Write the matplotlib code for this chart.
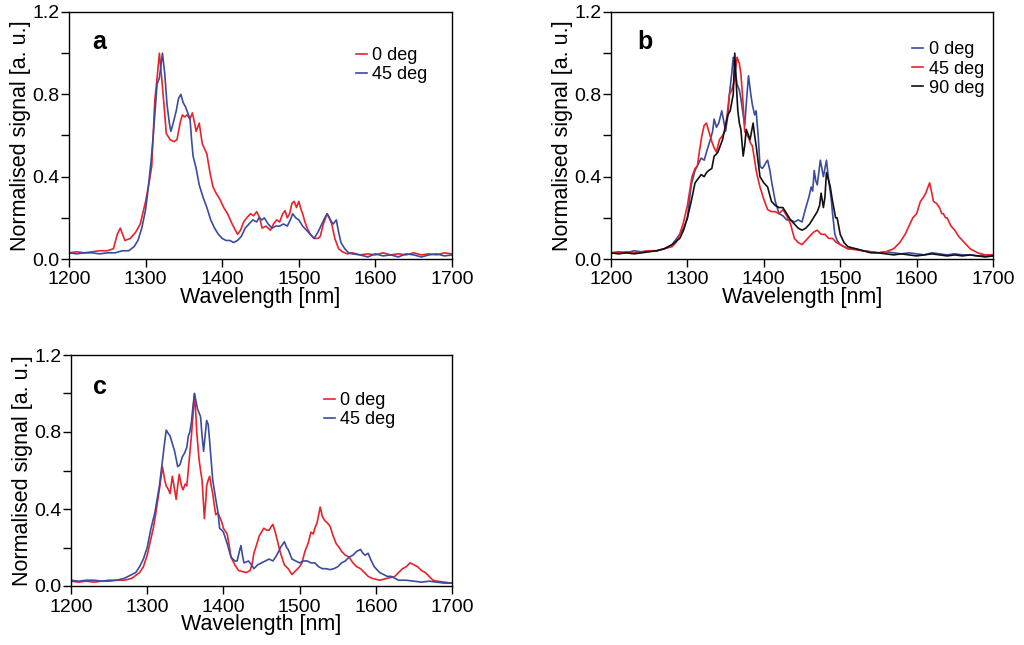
import matplotlib.pyplot as plt
from matplotlib.ticker import MultipleLocator

plt.rcParams['font.family'] = ['Liberation Sans', 'DejaVu Sans']

RED = '#e8232a'
BLUE = '#3a4c9f'
BLACK = '#111111'

# ---- panel a ----
wl_a_red = [1200, 1210, 1220, 1230, 1240, 1250, 1258, 1263, 1267, 1270, 1273, 1280, 1287, 1293, 1300,
            1305, 1308, 1312, 1315, 1318, 1321, 1324, 1327, 1332, 1337, 1341, 1345, 1348, 1351, 1354,
            1358, 1361, 1364, 1366, 1370, 1374, 1380, 1384, 1388, 1392, 1397, 1402, 1407, 1413, 1420,
            1424, 1428, 1432, 1437, 1441, 1445, 1449, 1452, 1457, 1463, 1467, 1471, 1475, 1479, 1482,
            1485, 1488, 1491, 1494, 1497, 1500, 1503, 1505, 1508, 1511, 1515, 1520, 1525, 1528, 1532,
            1537, 1540, 1543, 1547, 1552, 1557, 1563, 1570, 1580, 1590, 1600, 1610, 1620, 1630, 1640,
            1650, 1660, 1670, 1680, 1690, 1700]
a_red = [0.03, 0.035, 0.03, 0.035, 0.04, 0.04, 0.05, 0.12, 0.15, 0.12, 0.09, 0.10, 0.13, 0.17, 0.28,
         0.38, 0.45, 0.77, 0.88, 1.0, 0.88, 0.75, 0.61, 0.58, 0.57, 0.58, 0.66, 0.70, 0.69, 0.70,
         0.68, 0.71, 0.66, 0.62, 0.66, 0.56, 0.51, 0.42, 0.35, 0.32, 0.29, 0.25, 0.22, 0.17, 0.12,
         0.14, 0.18, 0.20, 0.22, 0.21, 0.23, 0.20, 0.15, 0.16, 0.14, 0.17, 0.19, 0.18, 0.22, 0.235,
         0.20, 0.22, 0.27, 0.28, 0.25, 0.28, 0.24, 0.22, 0.18, 0.15, 0.12, 0.10, 0.10, 0.11, 0.17,
         0.22, 0.20, 0.17, 0.10, 0.05, 0.035, 0.025, 0.03, 0.02, 0.025, 0.02, 0.03, 0.02, 0.025, 0.02,
         0.03, 0.02, 0.025, 0.02, 0.03, 0.025]

wl_a_blue = [1200, 1210, 1220, 1230, 1240, 1250, 1260, 1270, 1278, 1285, 1290, 1295, 1300, 1303, 1307,
             1310, 1313, 1315, 1318, 1322, 1325, 1328, 1331, 1333, 1336, 1340, 1343, 1346, 1349, 1352,
             1355, 1358, 1360, 1362, 1366, 1370, 1375, 1380, 1385, 1390, 1395, 1400, 1405, 1410, 1415,
             1420, 1425, 1430, 1435, 1440, 1445, 1448, 1452, 1455, 1460, 1465, 1470, 1475, 1480, 1485,
             1489, 1492, 1496, 1500, 1505, 1510, 1515, 1520, 1525, 1530, 1534, 1537, 1541, 1545, 1549,
             1552, 1555, 1560, 1565, 1570, 1580, 1590, 1600, 1610, 1620, 1630, 1640, 1650, 1660, 1670,
             1680, 1690, 1700]
a_blue = [0.03, 0.025, 0.03, 0.03, 0.025, 0.03, 0.03, 0.04, 0.04, 0.06, 0.09, 0.15, 0.24, 0.33, 0.47,
          0.60, 0.75, 0.85, 0.88, 1.0, 0.90, 0.75, 0.66, 0.62, 0.66, 0.72, 0.78, 0.80, 0.76, 0.74,
          0.71, 0.68, 0.58, 0.50, 0.44, 0.36, 0.30, 0.25, 0.19, 0.15, 0.12, 0.10, 0.09, 0.09, 0.08,
          0.09, 0.11, 0.15, 0.17, 0.19, 0.18, 0.20, 0.19, 0.20, 0.17, 0.15, 0.16, 0.16, 0.17, 0.16,
          0.19, 0.22, 0.20, 0.19, 0.16, 0.14, 0.12, 0.10, 0.13, 0.17, 0.20, 0.22, 0.19, 0.17, 0.19,
          0.13, 0.08, 0.05, 0.03, 0.025, 0.02, 0.01, 0.025, 0.015, 0.02, 0.01, 0.025, 0.02, 0.01, 0.02,
          0.025, 0.015, 0.02]

# ---- panel b ----
wl_b_0 = [1200, 1210, 1220, 1230, 1240, 1250, 1260, 1270, 1280, 1290, 1295, 1300, 1305, 1310, 1314,
          1318, 1322, 1325, 1330, 1333, 1335, 1338, 1341, 1345, 1348, 1350, 1353, 1355, 1358, 1360,
          1362, 1365, 1368, 1370, 1373, 1375, 1378, 1380, 1383, 1385, 1388, 1390, 1393, 1395, 1398,
          1400, 1403, 1405, 1408, 1410, 1415, 1420, 1425, 1430, 1435, 1440, 1445, 1450, 1455, 1459,
          1462, 1464, 1466, 1468, 1470, 1472, 1474, 1476, 1478, 1480, 1482, 1485, 1488, 1490, 1493,
          1496, 1500, 1505, 1510, 1520, 1530, 1540, 1550, 1560, 1570, 1580, 1590, 1600, 1610, 1620,
          1630, 1640, 1650, 1660, 1670, 1680, 1690, 1700]
b_0 = [0.03, 0.035, 0.03, 0.04, 0.035, 0.04, 0.04, 0.05, 0.07, 0.12, 0.15, 0.20, 0.36, 0.43, 0.46,
       0.49, 0.48, 0.52, 0.58, 0.62, 0.68, 0.64, 0.66, 0.72, 0.66, 0.62, 0.70, 0.80, 0.90, 0.98,
       0.93, 0.85, 0.82, 0.78, 0.70, 0.65, 0.80, 0.89, 0.80, 0.75, 0.70, 0.72, 0.58, 0.45, 0.44,
       0.45, 0.47, 0.48, 0.43, 0.38, 0.28, 0.22, 0.21, 0.19, 0.19, 0.18, 0.19, 0.18, 0.25, 0.30,
       0.35, 0.33, 0.43, 0.38, 0.36, 0.42, 0.48, 0.44, 0.40, 0.44, 0.48, 0.38, 0.30, 0.22, 0.12,
       0.09, 0.07, 0.06, 0.05, 0.05, 0.04, 0.035, 0.03, 0.035, 0.03, 0.025, 0.03, 0.025, 0.02, 0.03,
       0.025, 0.02, 0.025, 0.02, 0.02, 0.015, 0.02, 0.015]

wl_b_45 = [1200, 1210, 1220, 1230, 1240, 1250, 1260, 1270, 1280, 1285, 1290, 1295, 1300, 1303, 1306,
           1310, 1313, 1316, 1319, 1322, 1325, 1328, 1332, 1335, 1338, 1342, 1346, 1349, 1352, 1355,
           1358, 1361, 1363, 1365, 1368, 1370, 1373, 1375, 1378, 1380, 1383, 1385, 1388, 1390, 1393,
           1395, 1400, 1405, 1410, 1415, 1420, 1425, 1430, 1435, 1440, 1445, 1450, 1455, 1460, 1465,
           1470, 1475, 1480, 1485, 1490, 1495, 1500, 1505, 1510, 1520, 1530, 1540, 1550, 1560, 1570,
           1578, 1585, 1590, 1595, 1600, 1605, 1609, 1612, 1615, 1617, 1620, 1622, 1626, 1630, 1633,
           1635, 1638, 1640, 1645, 1650, 1655, 1660, 1665, 1670, 1675, 1680, 1690, 1700]
b_45 = [0.03, 0.03, 0.035, 0.03, 0.035, 0.04, 0.04, 0.05, 0.06, 0.08, 0.12, 0.18, 0.26, 0.33, 0.40,
        0.44, 0.45, 0.53, 0.60, 0.65, 0.66, 0.62, 0.57, 0.54, 0.52, 0.58, 0.60, 0.62, 0.70, 0.80,
        0.82, 0.86, 0.92, 0.98, 0.95, 0.90, 0.75, 0.62, 0.60, 0.59, 0.56, 0.55, 0.48, 0.43, 0.38,
        0.35, 0.29, 0.24, 0.23, 0.23, 0.22, 0.24, 0.21, 0.17, 0.10, 0.08, 0.07, 0.09, 0.11, 0.13,
        0.14, 0.12, 0.12, 0.10, 0.10, 0.08, 0.07, 0.06, 0.05, 0.045, 0.04, 0.035, 0.03, 0.035, 0.05,
        0.08, 0.12, 0.16, 0.20, 0.22, 0.28, 0.30, 0.32, 0.35, 0.37, 0.32, 0.28, 0.27, 0.25, 0.22,
        0.22, 0.20, 0.20, 0.16, 0.14, 0.11, 0.09, 0.07, 0.05, 0.04, 0.03, 0.02, 0.02]

wl_b_90 = [1200, 1210, 1220, 1230, 1240, 1250, 1260, 1270, 1280, 1290, 1295, 1300, 1305, 1310, 1314,
           1318, 1322, 1325, 1328, 1332, 1335, 1338, 1340, 1343, 1346, 1350, 1353, 1356, 1358, 1360,
           1362, 1364, 1366, 1368, 1370, 1373, 1375, 1377, 1380, 1382, 1384, 1386, 1388, 1390, 1393,
           1395, 1400, 1405, 1410, 1415, 1420, 1425, 1430, 1435, 1440, 1445, 1450, 1455, 1460, 1465,
           1470, 1473, 1475, 1478, 1480, 1482, 1485, 1487, 1490, 1492, 1494, 1496, 1498, 1500, 1505,
           1510, 1520, 1530, 1540, 1550, 1560, 1570, 1580, 1590, 1600, 1610, 1620, 1630, 1640, 1650,
           1660, 1670, 1680, 1690, 1700]
b_90 = [0.03, 0.025, 0.03, 0.025, 0.03, 0.035, 0.04, 0.05, 0.07, 0.10, 0.14, 0.20, 0.28, 0.37, 0.39,
        0.41, 0.40, 0.42, 0.43, 0.44, 0.50, 0.51, 0.52, 0.55, 0.58, 0.65, 0.70, 0.72, 0.76, 0.80,
        1.0, 0.85, 0.72, 0.66, 0.63, 0.50, 0.55, 0.63, 0.60, 0.58, 0.62, 0.66, 0.60, 0.55, 0.46,
        0.40, 0.37, 0.35, 0.28, 0.26, 0.25, 0.25, 0.22, 0.19, 0.17, 0.15, 0.14, 0.15, 0.17, 0.20,
        0.23, 0.26, 0.32, 0.25, 0.30, 0.42, 0.38, 0.35, 0.28, 0.24, 0.20, 0.20, 0.16, 0.12, 0.08,
        0.06, 0.05, 0.04, 0.03, 0.03, 0.025, 0.02, 0.025, 0.02, 0.015, 0.02, 0.025, 0.02, 0.015, 0.02,
        0.015, 0.02, 0.015, 0.01, 0.015]

# ---- panel c ----
wl_c_red = [1200, 1210, 1220, 1230, 1240, 1250, 1260, 1270, 1280, 1290, 1295, 1300, 1304, 1308, 1311,
            1314, 1317, 1320, 1323, 1325, 1328, 1330, 1333, 1336, 1338, 1340, 1342, 1345, 1347, 1350,
            1352, 1355, 1358, 1360, 1362, 1364, 1365, 1368, 1370, 1372, 1374, 1375, 1377, 1378, 1380,
            1382, 1384, 1386, 1388, 1390, 1393, 1395, 1398, 1400, 1405, 1408, 1410, 1415, 1420, 1425,
            1430, 1435, 1438, 1440, 1444, 1447, 1450, 1453, 1457, 1460, 1463, 1465, 1468, 1470, 1473,
            1475, 1480, 1485, 1490, 1495, 1500, 1503, 1507, 1511, 1515, 1518, 1520, 1523, 1525, 1527,
            1530, 1533, 1536, 1540, 1544, 1548, 1552, 1555, 1560, 1565, 1570, 1575, 1580, 1585, 1590,
            1595, 1600, 1605, 1610, 1615, 1620, 1625, 1630, 1635, 1640, 1645, 1650, 1655, 1660, 1665,
            1670, 1675, 1680, 1690, 1700]
c_red = [0.025, 0.02, 0.025, 0.02, 0.025, 0.025, 0.03, 0.03, 0.04, 0.07, 0.10, 0.16, 0.23, 0.30, 0.37,
         0.45, 0.53, 0.62, 0.55, 0.52, 0.50, 0.48, 0.57, 0.50, 0.45, 0.52, 0.58, 0.52, 0.50, 0.53,
         0.52, 0.65, 0.78, 0.88, 1.0, 0.88, 0.80, 0.66, 0.60, 0.55, 0.42, 0.35, 0.45, 0.52, 0.55,
         0.57, 0.52, 0.48, 0.42, 0.37, 0.38, 0.36, 0.33, 0.30, 0.27, 0.20, 0.15, 0.11, 0.08, 0.075,
         0.07, 0.08, 0.12, 0.17, 0.22, 0.26, 0.28, 0.30, 0.29, 0.29, 0.31, 0.32, 0.28, 0.25, 0.20,
         0.17, 0.11, 0.09, 0.06, 0.08, 0.10, 0.12, 0.18, 0.22, 0.28, 0.27, 0.30, 0.33, 0.37, 0.41,
         0.36, 0.34, 0.33, 0.31, 0.26, 0.22, 0.20, 0.18, 0.16, 0.15, 0.12, 0.10, 0.09, 0.07, 0.05,
         0.04, 0.035, 0.03, 0.035, 0.04, 0.045, 0.05, 0.07, 0.09, 0.10, 0.12, 0.11, 0.10, 0.08, 0.07,
         0.05, 0.03, 0.025, 0.02, 0.015]

wl_c_blue = [1200, 1210, 1220, 1230, 1240, 1250, 1260, 1265, 1270, 1275, 1280, 1285, 1290, 1295, 1300,
             1305, 1310, 1313, 1316, 1320, 1323, 1325, 1328, 1330, 1333, 1336, 1340, 1343, 1346, 1349,
             1352, 1354, 1356, 1358, 1360, 1362, 1364, 1366, 1368, 1370, 1372, 1374, 1376, 1378, 1380,
             1382, 1384, 1386, 1390, 1393, 1395, 1398, 1400, 1405, 1410, 1415, 1418, 1421, 1423, 1425,
             1427, 1433, 1437, 1440, 1445, 1450, 1455, 1460, 1465, 1470, 1475, 1480, 1483, 1485, 1490,
             1495, 1500, 1505, 1510, 1515, 1520, 1525, 1530, 1535, 1540, 1545, 1550, 1555, 1560, 1565,
             1570, 1575, 1580, 1583, 1586, 1590, 1593, 1598, 1605, 1610, 1615, 1620, 1625, 1630, 1640,
             1650, 1660, 1670, 1680, 1690, 1700]
c_blue = [0.03, 0.025, 0.03, 0.03, 0.025, 0.03, 0.03, 0.035, 0.04, 0.05, 0.06, 0.07, 0.10, 0.14, 0.20,
          0.30, 0.38, 0.45, 0.52, 0.65, 0.75, 0.81, 0.79, 0.78, 0.74, 0.70, 0.62, 0.63, 0.67, 0.69,
          0.72, 0.78, 0.80, 0.85, 0.93, 1.0, 0.96, 0.92, 0.90, 0.88, 0.78, 0.70, 0.78, 0.86, 0.84,
          0.75, 0.65, 0.55, 0.45, 0.38, 0.30, 0.29, 0.28, 0.22, 0.15, 0.13, 0.13, 0.18, 0.21, 0.16,
          0.12, 0.13, 0.11, 0.09, 0.11, 0.12, 0.13, 0.14, 0.13, 0.16, 0.20, 0.23, 0.20, 0.19, 0.14,
          0.13, 0.12, 0.13, 0.13, 0.12, 0.12, 0.10, 0.09, 0.09, 0.085, 0.09, 0.10, 0.12, 0.13, 0.15,
          0.16, 0.18, 0.19, 0.17, 0.16, 0.17, 0.14, 0.10, 0.07, 0.06, 0.05, 0.05, 0.04, 0.03, 0.03,
          0.025, 0.02, 0.025, 0.02, 0.015, 0.015]

x_ticks = [1200, 1300, 1400, 1500, 1600, 1700]
y_ticks = [0.0, 0.4, 0.8, 1.2]


def style_axes(ax, letter, letter_pos):
    ax.set_xlim(1200, 1700)
    ax.set_ylim(0, 1.2)
    ax.set_xticks(x_ticks)
    ax.set_yticks(y_ticks)
    ax.set_yticklabels(['%.1f' % v for v in y_ticks])
    ax.yaxis.set_minor_locator(MultipleLocator(0.2))
    ax.tick_params(which='both', direction='out', length=6, width=1, labelsize=14, pad=1)
    ax.tick_params(axis='x', pad=3)
    for s in ax.spines.values():
        s.set_linewidth(1)
    ax.set_xlabel('Wavelength [nm]', fontsize=15.5, labelpad=-1)
    ax.set_ylabel('Normalised signal [a. u.]', fontsize=15.5, labelpad=1)
    ax.text(letter_pos[0], letter_pos[1], letter, transform=ax.transAxes,
            fontsize=18, fontweight='bold')


def add_legend(ax, anchor):
    ax.legend(loc='upper left', bbox_to_anchor=anchor, frameon=False, fontsize=13,
              handlelength=0.6, handletextpad=0.3, labelspacing=0.12, borderaxespad=0)


fig = plt.figure(figsize=(10.24, 6.45), dpi=100)
ax_a = fig.add_axes([69 / 1024, 1 - 259 / 645, 383 / 1024, 247 / 645])
ax_b = fig.add_axes([611 / 1024, 1 - 259 / 645, 382 / 1024, 247 / 645])
ax_c = fig.add_axes([71 / 1024, 1 - 586 / 645, 381 / 1024, 231 / 645])

lw = 1.2
ax_a.plot(wl_a_red, a_red, color=RED, lw=lw, label='0 deg')
ax_a.plot(wl_a_blue, a_blue, color=BLUE, lw=lw, label='45 deg')
style_axes(ax_a, 'a', (0.062, 0.85))
add_legend(ax_a, (0.73, 0.888))

ax_b.plot(wl_b_0, b_0, color=BLUE, lw=lw, label='0 deg')
ax_b.plot(wl_b_45, b_45, color=RED, lw=lw, label='45 deg')
ax_b.plot(wl_b_90, b_90, color=BLACK, lw=lw, label='90 deg')
style_axes(ax_b, 'b', (0.068, 0.85))
add_legend(ax_b, (0.77, 0.91))

ax_c.plot(wl_c_red, c_red, color=RED, lw=lw, label='0 deg')
ax_c.plot(wl_c_blue, c_blue, color=BLUE, lw=lw, label='45 deg')
style_axes(ax_c, 'c', (0.058, 0.83))
add_legend(ax_c, (0.645, 0.87))

fig.savefig('out.png', dpi=100)
